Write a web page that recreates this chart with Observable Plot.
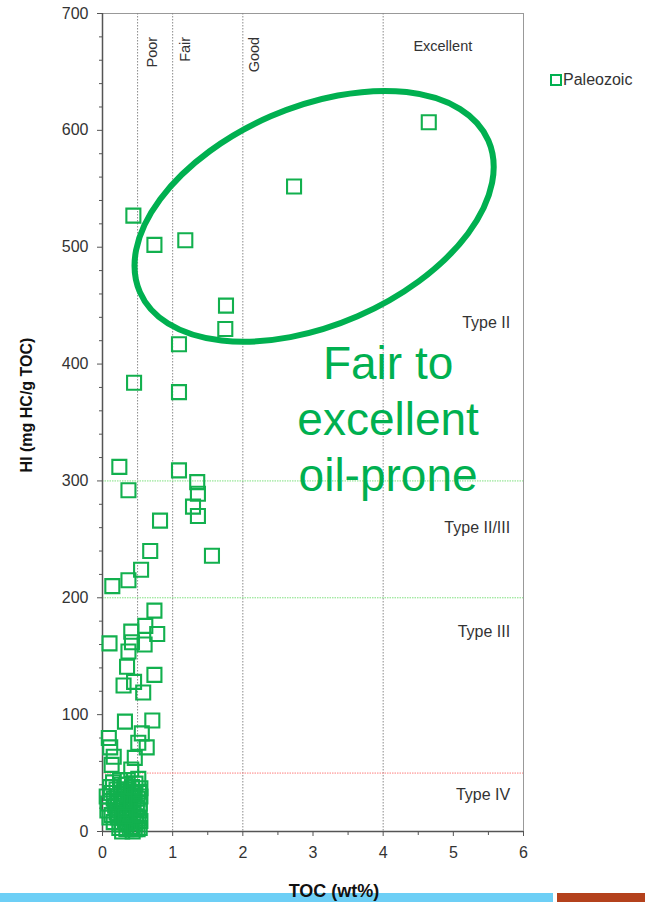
<!DOCTYPE html>
<html>
<head>
<meta charset="utf-8">
<script src="https://cdn.jsdelivr.net/npm/d3@7"></script>
<script src="https://cdn.jsdelivr.net/npm/@observablehq/plot@0.6"></script>
<style>
  html, body { margin: 0; padding: 0; background: #fff; }
  #wrap { position: relative; width: 645px; height: 902px; overflow: hidden; font-family: "Liberation Sans", Arial, sans-serif; }
  #wrap svg { position: absolute; left: 0; top: 0; }
  .ov { position: absolute; white-space: nowrap; }
</style>
</head>
<body>
<div id="wrap"></div>
<script>
// ---- data ----
const toc = [
  4.65, 2.73, 1.18, 0.74, 0.44, 1.76, 1.75, 1.09, 1.09, 0.45,
  0.24, 0.37, 1.09, 1.35, 1.36, 1.29, 1.36, 0.82, 1.56, 0.68,
  0.55, 0.37, 0.14, 0.74, 0.61, 0.10, 0.78,
  0.41, 0.42, 0.60, 0.37, 0.35, 0.74, 0.45, 0.30, 0.58,
  0.32, 0.71, 0.56, 0.09, 0.11, 0.51, 0.63, 0.46, 0.16, 0.13, 0.41,
  0.15, 0.27, 0.36, 0.47, 0.54,
  0.12, 0.22, 0.31, 0.40, 0.50, 0.54,
  0.08, 0.18, 0.26, 0.35, 0.44, 0.53,
  0.13, 0.22, 0.30, 0.39, 0.48, 0.54,
  0.10, 0.24, 0.27, 0.34, 0.42, 0.50, 0.53,
  0.24, 0.45, 0.32, 0.38,
  0.06, 0.07, 0.11, 0.16, 0.20, 0.25, 0.29, 0.33, 0.37, 0.42,
  0.46, 0.51, 0.52, 0.16, 0.20, 0.28, 0.31, 0.36, 0.40, 0.44,
  0.47, 0.51, 0.53, 0.28, 0.36, 0.43, 0.49, 0.31, 0.21, 0.39,
  0.46, 0.33
];
const hi = [
  607, 552, 506, 502, 527, 450, 430, 417, 376, 384,
  312, 292, 309, 299, 289, 278, 270, 266, 236, 240,
  224, 215, 210, 189, 176, 161, 169,
  171, 162, 160, 154, 141, 134, 128, 125, 119,
  94, 95, 84, 80, 72, 76, 72, 63, 64, 57, 53,
  42, 40, 44, 41, 37,
  33, 30, 34, 31, 28, 30,
  24, 22, 25, 20, 23, 18,
  14, 12, 15, 10, 13, 9,
  12, 3, 6, 2, 4, 2, 3,
  18, 33, 8, 26,
  30, 18, 38, 28, 36, 44, 28, 40, 36, 38,
  30, 45, 34, 8, 16, 12, 20, 14, 18, 15,
  7, 11, 24, 0, 7, 0, 20, 26, 25, 3,
  2, 13
];
const xMajor = [0, 1, 2, 3, 4, 5, 6];
const xMinor = [0.5, 1.5, 2.5, 3.5, 4.5, 5.5];
const yMajor = [0, 100, 200, 300, 400, 500, 600, 700];
const yMinor = d3.range(0, 701, 20).filter(v => v % 100 !== 0);
const tocLimits = [0.5, 1, 2, 4];
const kerogenLimitsGreen = [200, 300];
const kerogenLimitRed = [50];
const qualityLabels = ["Poor", "Fair", "Good"];
const qualityX = [0.71, 1.18, 2.17];
const typeLabels = ["Type II", "Type II/III", "Type III", "Type IV"];
const typeY = [435, 260, 171, 31];
const bigLines = ["Fair to", "excellent", "oil-prone"];
const bigY = [400, 352, 304];
const ellipse = {cx: 3.023, cy: 526, rx: 190, ry: 109, angle: -23.5};

const green = "#00b050";
const data = toc.map((t, i) => ({toc: t, hi: hi[i]}));

const ellipseMark = (index, scales) => {
  const cx = scales.x(ellipse.cx), cy = scales.y(ellipse.cy);
  const g = d3.create("svg:ellipse")
    .attr("cx", cx).attr("cy", cy)
    .attr("rx", ellipse.rx).attr("ry", ellipse.ry)
    .attr("transform", `rotate(${ellipse.angle} ${cx} ${cy})`)
    .attr("fill", "none").attr("stroke", green).attr("stroke-width", 6);
  return g.node();
};

const plot = Plot.plot({
  width: 645,
  height: 902,
  marginLeft: 102,
  marginRight: 122,
  marginTop: 13,
  marginBottom: 71,
  style: {fontFamily: "'Liberation Sans', Arial, sans-serif", fontSize: "16px", color: "#333", background: "transparent"},
  x: {domain: [0, 6], label: null},
  y: {domain: [0, 700], label: null},
  marks: [
    Plot.frame({stroke: "#999"}),
    Plot.ruleX(tocLimits, {stroke: "#8a8a8a", strokeDasharray: "1.5,1.5"}),
    Plot.ruleY(kerogenLimitsGreen, {stroke: "#7fe07f", strokeDasharray: "1.5,1"}),
    Plot.ruleY(kerogenLimitRed, {stroke: "#ff7f7f", strokeDasharray: "1.5,1"}),
    Plot.axisX(xMajor, {tickSize: 5, tickPadding: 10, fontSize: 16, stroke: "#555", fill: "#333", label: null}),
    Plot.axisX(xMinor, {tickSize: 4, tickFormat: () => "", stroke: "#555", label: null}),
    Plot.axisY(yMajor, {tickSize: 5, tickPadding: 9, fontSize: 16, stroke: "#555", fill: "#333", label: null}),
    Plot.axisY(yMinor, {tickSize: 3, tickFormat: () => "", stroke: "#555", label: null}),
    Plot.ruleX([0], {stroke: "#555", strokeWidth: 1.5}),
    Plot.ruleY([0], {stroke: "#555", strokeWidth: 1.5}),
    Plot.text(qualityLabels, {x: (d, i) => qualityX[i], y: 680, text: d => d, rotate: -90, textAnchor: "end", fontSize: 14.5, fill: "#333"}),
    Plot.text(["Excellent"], {x: 4.85, y: 672, text: d => d, fontSize: 14.5, fill: "#333"}),
    Plot.text(typeLabels, {x: 5.81, y: (d, i) => typeY[i], text: d => d, textAnchor: "end", fontSize: 16, fill: "#333"}),
    Plot.dot(data, {x: "toc", y: "hi", symbol: "square", r: 7.9, stroke: "#12b04e", strokeWidth: 2.1, fill: "none"}),
    ellipseMark,
    Plot.text(bigLines, {x: 4.07, y: (d, i) => bigY[i], text: d => d, fontSize: 46, fill: green})
  ]
});

const wrap = document.getElementById("wrap");
wrap.appendChild(plot);

function ov(html, css) {
  const d = document.createElement("div");
  d.className = "ov";
  d.innerHTML = html;
  Object.assign(d.style, css);
  wrap.appendChild(d);
  return d;
}
// legend
ov("", {left: "550px", top: "74px", width: "8px", height: "8px", border: "2px solid " + green});
ov("Paleozoic", {left: "563px", top: "71px", fontSize: "16px", lineHeight: "18px", color: "#333"});
// y label
ov("HI (mg HC/g TOC)", {left: "27px", top: "405px", fontSize: "16px", fontWeight: "bold", color: "#111",
  transform: "translate(-50%,-50%) rotate(-90deg)"});
// bottom bars
ov("", {left: "0px", top: "893px", width: "553px", height: "9px", background: "#6dcff6"});
ov("", {left: "557px", top: "893px", width: "88px", height: "9px", background: "#b4411c"});
// x label
ov("TOC (wt%)", {left: "334px", top: "891px", fontSize: "18px", fontWeight: "bold", color: "#111",
  transform: "translate(-50%,-50%)"});
</script>
</body>
</html>
